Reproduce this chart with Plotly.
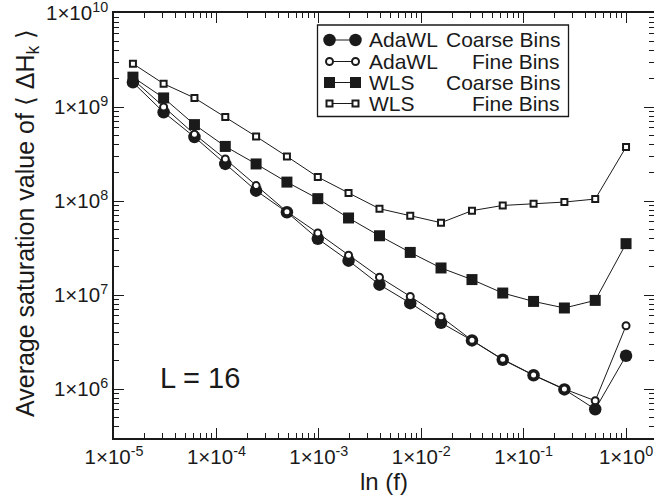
import plotly.graph_objects as go

# Modification factor f (halved each stage), shared by all four runs
ln_f = [1.53e-5, 3.05e-5, 6.10e-5, 1.22e-4, 2.44e-4, 4.88e-4, 9.77e-4,
        1.95e-3, 3.91e-3, 7.81e-3, 1.56e-2, 3.13e-2, 6.25e-2, 0.125,
        0.25, 0.5, 1.0]

# Average saturation value of <Delta H_k> for each method / binning
adawl_coarse = [1.83e9, 8.8e8, 4.8e8, 2.48e8, 1.29e8, 7.6e7, 3.97e7, 2.32e7,
                1.29e7, 8.2e6, 5.07e6, 3.29e6, 2.05e6, 1.40e6, 9.9e5, 6.1e5,
                2.26e6]
adawl_fine = [1.97e9, 1.0e9, 5.14e8, 2.8e8, 1.46e8, 7.7e7, 4.57e7, 2.65e7,
              1.55e7, 9.66e6, 5.87e6, 3.3e6, 2.07e6, 1.41e6, 1.0e6, 7.5e5,
              4.71e6]
wls_coarse = [2.08e9, 1.25e9, 6.5e8, 3.81e8, 2.48e8, 1.59e8, 1.06e8, 6.6e7,
              4.27e7, 2.84e7, 1.94e7, 1.46e7, 1.05e7, 8.55e6, 7.28e6, 8.77e6,
              3.52e7]
wls_fine = [2.89e9, 1.77e9, 1.25e9, 7.83e8, 4.86e8, 2.98e8, 1.8e8, 1.22e8,
            8.28e7, 6.98e7, 5.88e7, 7.9e7, 8.97e7, 9.35e7, 9.75e7, 1.05e8,
            3.75e8]

method_labels = ["AdaWL", "AdaWL", "WLS", "WLS"]
bin_labels = ["Coarse Bins", "Fine Bins", "Coarse Bins", "Fine Bins"]

x_decades = [-5, -4, -3, -2, -1, 0]
y_decades = [6, 7, 8, 9, 10]

x_title = "ln (f)"
y_title = "Average saturation value of ⟨ ΔH<sub>k</sub> ⟩"

INK = "#1a1a1a"
FONT = "Liberation Sans, Arial, Helvetica, sans-serif"
TICK_SIZE = 20.5

# Page geometry (px)
W, H = 654, 500
PLOT_L, PLOT_R, PLOT_T, PLOT_B = 114, 654, 13, 438


def px_x(px):
    return (px - PLOT_L) / (PLOT_R - PLOT_L)


def px_y(py):
    return (PLOT_B - py) / (PLOT_B - PLOT_T)


styles = [
    dict(symbol="circle", size=12.5, color=INK, line=dict(width=0)),
    dict(symbol="circle", size=7, color="white", line=dict(color=INK, width=2)),
    dict(symbol="square", size=11, color=INK, line=dict(width=0)),
    dict(symbol="square", size=6, color="white", line=dict(color=INK, width=2)),
]
series = [adawl_coarse, adawl_fine, wls_coarse, wls_fine]

fig = go.Figure()
for name_m, name_b, ys, st in zip(method_labels, bin_labels, series, styles):
    fig.add_trace(go.Scatter(
        x=ln_f, y=ys, mode="lines+markers",
        name=f"{name_m} {name_b}",
        line=dict(color=INK, width=1),
        marker=st, showlegend=False, cliponaxis=False,
    ))

# Legend box: key samples drawn on a pixel-unit overlay axis
LEG_L, LEG_R, LEG_T, LEG_B = 317.5, 568.5, 25, 116.5
LEG_ROWS = [40, 61.5, 82.5, 103.5]
KEY_X = [329.5, 355.5]
TEXT_L, TEXT_R = 366.5, 561.5

for name_m, name_b, row_y, st in zip(method_labels, bin_labels, LEG_ROWS, styles):
    fig.add_trace(go.Scatter(
        x=KEY_X, y=[row_y, row_y], xaxis="x2", yaxis="y2",
        mode="lines+markers", line=dict(color=INK, width=1),
        marker=st, showlegend=False, hoverinfo="skip",
    ))
    fig.add_annotation(x=px_x(TEXT_L), y=px_y(row_y), xref="paper", yref="paper",
                       text=name_m, showarrow=False, xanchor="left",
                       yanchor="middle", font=dict(size=21, color=INK))
    fig.add_annotation(x=px_x(TEXT_R), y=px_y(row_y), xref="paper", yref="paper",
                       text=name_b, showarrow=False, xanchor="right",
                       yanchor="middle", font=dict(size=21, color=INK))

fig.add_shape(type="rect", xref="paper", yref="paper",
              x0=px_x(LEG_L), x1=px_x(LEG_R), y0=px_y(LEG_B), y1=px_y(LEG_T),
              line=dict(color=INK, width=1.3), fillcolor="rgba(0,0,0,0)")

fig.add_annotation(x=px_x(200), y=px_y(378), xref="paper", yref="paper",
                   text="L = 16", showarrow=False, xanchor="center",
                   yanchor="middle", font=dict(size=29, color=INK))

# Vertical axis title, placed at a fixed distance left of the tick labels
fig.add_annotation(x=px_x(27), y=px_y(223), xref="paper", yref="paper",
                   text=y_title, textangle=-90, showarrow=False,
                   xanchor="center", yanchor="middle",
                   font=dict(size=25, color=INK))

x_minor = [k * 10.0 ** d for d in x_decades[:-1] for k in range(2, 10)]
y_minor = [k * 10.0 ** d for d in [5] + y_decades[:-1] for k in range(2, 10)]

axis_common = dict(
    type="log", showline=True, linecolor=INK, linewidth=1.5, mirror="allticks",
    ticks="inside", ticklen=10, tickwidth=1.3, tickcolor=INK,
    showgrid=False, zeroline=False, ticklabeloverflow="allow",
    tickfont=dict(size=TICK_SIZE, color=INK, family=FONT),
)

fig.update_layout(
    width=W, height=H,
    margin=dict(l=PLOT_L, r=W - PLOT_R, t=PLOT_T, b=H - PLOT_B, autoexpand=False),
    paper_bgcolor="white", plot_bgcolor="white",
    font=dict(family=FONT, color=INK, size=TICK_SIZE),
    xaxis=dict(
        **axis_common, range=[-5.0003, 0.273],
        tickmode="array", tickvals=[10.0 ** d for d in x_decades],
        ticktext=[f"1×10<sup>{d}</sup>" for d in x_decades],
        minor=dict(tickmode="array", tickvals=x_minor, ticks="inside",
                   ticklen=5, tickwidth=1.1, tickcolor=INK, showgrid=False),
        title=dict(text=x_title, font=dict(size=24, color=INK), standoff=2),
    ),
    yaxis=dict(
        **axis_common, range=[5.479, 10.0003],
        tickmode="array", tickvals=[10.0 ** d for d in y_decades],
        ticktext=[f"1×10<sup>{d}</sup>" for d in y_decades],
        minor=dict(tickmode="array", tickvals=y_minor, ticks="inside",
                   ticklen=5, tickwidth=1.1, tickcolor=INK, showgrid=False),
    ),
    xaxis2=dict(overlaying="x", anchor="y2", range=[PLOT_L, PLOT_R],
                visible=False, fixedrange=True),
    yaxis2=dict(overlaying="y", anchor="x2", range=[PLOT_B, PLOT_T],
                visible=False, fixedrange=True),
)

fig.write_html("out.html")
